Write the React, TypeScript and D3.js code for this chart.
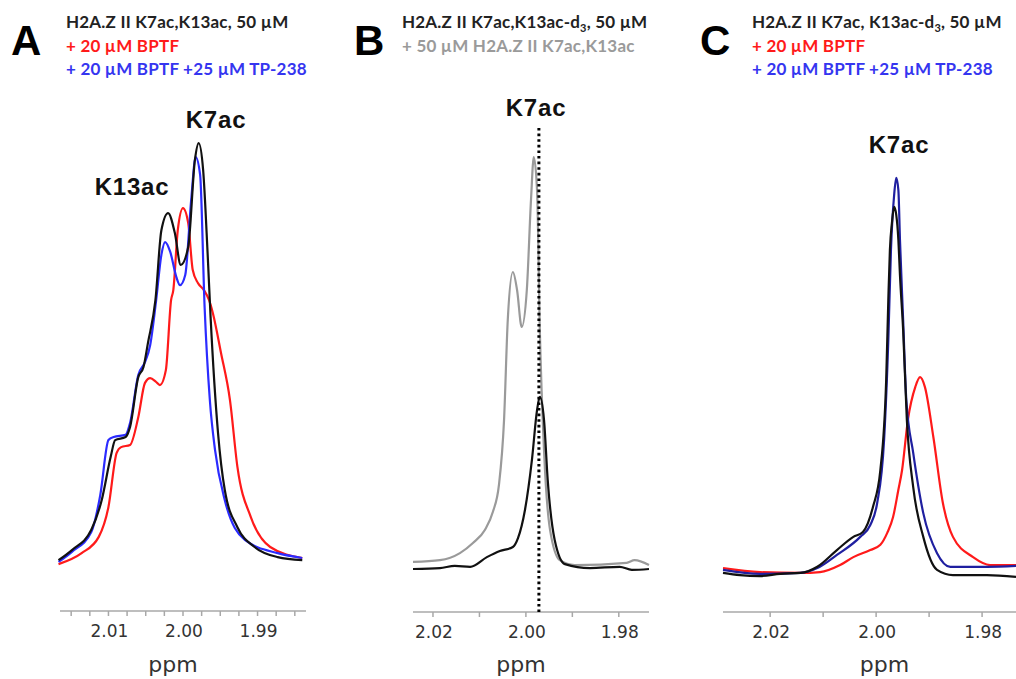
import * as d3 from "d3";
import { useEffect, useRef } from "react";

// spectra as [ppm, intensity] pairs, intensity in arbitrary units (0 = baseline area)
const aRed: [number, number][] = [
  [2.0167, 3.6], [2.0136, 6.1], [2.0113, 9.8], [2.01, 16.6], [2.0089, 28.9], [2.0083, 30.2],
  [2.0071, 30.7], [2.006, 37.0], [2.0051, 44.8], [2.0044, 45.9], [2.0036, 45.0], [2.0031, 44.3],
  [2.0023, 47.7], [2.0016, 63.6], [2.0013, 65.9], [2.0007, 79.5], [2.0, 84.5], [1.9993, 81.1],
  [1.9987, 70.5], [1.998, 67.5], [1.9972, 65.9], [1.9965, 63.6], [1.996, 60.7], [1.9949, 51.6],
  [1.9937, 40.9], [1.9927, 25.7], [1.9909, 14.3], [1.9883, 7.5], [1.984, 5.0],
];
const aBlue: [number, number][] = [
  [2.0167, 4.1], [2.0149, 6.4], [2.0123, 10.9], [2.0111, 19.3], [2.01, 31.8], [2.0093, 32.5],
  [2.0077, 33.0], [2.0071, 35.7], [2.006, 46.6], [2.0051, 49.5], [2.0044, 53.4], [2.0036, 63.6],
  [2.0029, 73.9], [2.0024, 76.8], [2.0017, 74.5], [2.0009, 68.9], [2.0004, 67.0], [1.9997, 69.3],
  [1.9989, 86.4], [1.9983, 96.1], [1.9977, 92.0], [1.9971, 62.0], [1.9964, 40.9], [1.9957, 29.5],
  [1.9944, 18.2], [1.9917, 9.1], [1.9873, 6.1], [1.984, 5.0],
];
const aBlack: [number, number][] = [
  [2.0167, 4.5], [2.0149, 6.8], [2.0123, 11.4], [2.0109, 18.2], [2.0097, 28.0], [2.0091, 31.8],
  [2.0077, 32.5], [2.0071, 34.8], [2.006, 46.1], [2.0053, 48.4], [2.0047, 53.9], [2.0037, 63.6],
  [2.0029, 79.5], [2.002, 83.4], [2.0011, 78.9], [2.0003, 71.6], [1.9993, 75.7], [1.9984, 95.5],
  [1.9979, 99.3], [1.9973, 93.2], [1.9967, 74.3], [1.9963, 59.8], [1.9953, 33.4], [1.9944, 20.5],
  [1.9927, 12.0], [1.9904, 7.5], [1.9873, 5.2], [1.984, 4.5],
];

const bGray: [number, number][] = [
  [2.0243, 4.1], [2.0185, 4.5], [2.0142, 6.1], [2.0114, 8.4], [2.0088, 11.4], [2.0071, 15.5],
  [2.0058, 21.6], [2.0047, 36.4], [2.0039, 59.1], [2.0028, 70.0], [2.0019, 65.9], [2.0009, 57.5],
  [1.9998, 65.9], [1.9989, 86.4], [1.9983, 96.1], [1.9976, 88.6], [1.997, 56.8], [1.9961, 29.5],
  [1.9948, 11.4], [1.9927, 4.5], [1.9895, 3.4], [1.9783, 3.9], [1.9766, 4.5], [1.9735, 3.4],
];
const bBlack: [number, number][] = [
  [2.0243, 2.5], [2.0185, 2.7], [2.0153, 3.2], [2.012, 3.0], [2.0084, 5.2], [2.0056, 6.6],
  [2.0028, 7.5], [2.0017, 9.5], [2.0002, 15.9], [1.9987, 27.3], [1.9976, 38.6], [1.997, 41.6],
  [1.9961, 36.4], [1.9953, 22.7], [1.9938, 9.1], [1.9916, 3.6], [1.9862, 2.7], [1.9798, 3.0],
  [1.9772, 2.3], [1.9735, 2.5],
];
const bMarker = 1.9972;

const cRed: [number, number][] = [
  [2.0289, 2.7], [2.0219, 1.8], [2.0143, 1.6], [2.0106, 1.8], [2.0068, 3.4], [2.0043, 5.2],
  [2.0011, 6.8], [1.9992, 8.0], [1.9979, 10.7], [1.9968, 14.3], [1.9958, 20.5], [1.9951, 25.0],
  [1.994, 36.4], [1.9926, 43.9], [1.9917, 46.1], [1.9908, 43.9], [1.9892, 32.5], [1.9874, 17.5],
  [1.9855, 9.8], [1.9817, 5.2], [1.9785, 3.4], [1.9736, 3.4],
];
const cBlue: [number, number][] = [
  [2.0289, 2.3], [2.0219, 1.4], [2.0143, 1.6], [2.0111, 2.7], [2.0074, 5.7], [2.003, 9.8],
  [2.0011, 12.5], [1.9998, 17.5], [1.9985, 31.8], [1.9977, 54.5], [1.9972, 75.0], [1.9966, 87.5],
  [1.9962, 91.4], [1.9958, 88.6], [1.9955, 77.3], [1.9949, 59.1], [1.9943, 40.9], [1.993, 28.9],
  [1.9911, 15.2], [1.9885, 6.1], [1.986, 3.0], [1.9791, 3.0], [1.9736, 3.2],
];
const cBlack: [number, number][] = [
  [2.0289, 1.6], [2.0257, 1.1], [2.0219, 0.9], [2.0181, 1.4], [2.0143, 1.6], [2.0111, 3.0],
  [2.0074, 6.8], [2.0043, 9.8], [2.0025, 10.9], [2.0006, 16.6], [1.9992, 25.0], [1.9981, 45.5],
  [1.9977, 63.6], [1.9974, 75.0], [1.997, 81.4], [1.9966, 84.8], [1.9962, 83.0], [1.9958, 77.3],
  [1.9955, 69.3], [1.9949, 56.8], [1.9942, 36.4], [1.993, 21.1], [1.9911, 9.8], [1.9885, 2.3],
  [1.9855, 1.1], [1.9791, 1.1], [1.9736, 0.7],
];

const aTicks = [2.015, 2.0125, 2.01, 2.0075, 2.005, 2.0025, 2.0, 1.9975, 1.995, 1.9925, 1.99, 1.9875, 1.985];
const aTickLabels = [2.01, 2.0, 1.99];
const bTicks = [2.02, 2.01, 2.0, 1.99, 1.98];
const bTickLabels = [2.02, 2.0, 1.98];
const cTicks = [2.02, 2.01, 2.0, 1.99, 1.98];
const cTickLabels = [2.02, 2.0, 1.98];

const RED = "#ff1a1a";
const BLUE = "#2b2bff";
const NAVY = "#1f1fa0";
const GRAY = "#9a9a9a";
const BLACK = "#111";

const App = () => {
  const svgRef = useRef<SVGSVGElement>(null);

  useEffect(() => {
    const svg = d3.select(svgRef.current);
    svg.selectAll("*").remove();

    const y = d3.scaleLinear().domain([0, 100]).range([580, 140]);

    const panels = [
      {
        range: [60, 306], domain: [2.0165, 1.9835], axisY: 611, ticks: aTicks, labels: aTickLabels,
        series: [{ d: aRed, c: RED }, { d: aBlue, c: BLUE }, { d: aBlack, c: BLACK }],
      },
      {
        range: [413, 649], domain: [2.0243, 1.9735], axisY: 612, ticks: bTicks, labels: bTickLabels,
        series: [{ d: bGray, c: GRAY }, { d: bBlack, c: BLACK }],
      },
      {
        range: [723, 1016], domain: [2.0289, 1.9736], axisY: 612, ticks: cTicks, labels: cTickLabels,
        series: [{ d: cRed, c: RED }, { d: cBlue, c: NAVY }, { d: cBlack, c: BLACK }],
      },
    ];

    const scales: d3.ScaleLinear<number, number>[] = [];

    panels.forEach((p) => {
      const x = d3.scaleLinear().domain(p.domain).range(p.range);
      scales.push(x);
      const g = svg.append("g");

      // axis
      g.append("line")
        .attr("x1", p.range[0]).attr("x2", p.range[1])
        .attr("y1", p.axisY).attr("y2", p.axisY)
        .attr("stroke", "#a8a8a8").attr("stroke-width", 1.5);
      g.selectAll(".tick").data(p.ticks).enter().append("line")
        .attr("x1", (t) => x(t)).attr("x2", (t) => x(t))
        .attr("y1", p.axisY).attr("y2", p.axisY + 5)
        .attr("stroke", "#a8a8a8").attr("stroke-width", 1.5);
      g.selectAll(".lab").data(p.labels).enter().append("text")
        .attr("x", (t) => x(t) + 1).attr("y", p.axisY + 26)
        .attr("text-anchor", "middle")
        .attr("font-family", "DejaVu Sans, Verdana, sans-serif")
        .attr("font-size", 17).attr("fill", "#333")
        .text((t) => d3.format(".2f")(t));
      g.append("text")
        .attr("x", (p.range[0] + Math.min(p.range[1], 1030)) / 2 + (p.range[0] > 700 ? 15 : -10))
        .attr("y", 672)
        .attr("text-anchor", "middle")
        .attr("font-family", "DejaVu Sans, Verdana, sans-serif")
        .attr("font-size", 22).attr("fill", "#333")
        .text("ppm");

      const line = d3.line<[number, number]>()
        .x((d) => x(d[0])).y((d) => y(d[1]))
        .curve(d3.curveMonotoneX);
      p.series.forEach((s) => {
        g.append("path")
          .attr("d", line([...s.d].sort((a, b) => a[0] - b[0])))
          .attr("fill", "none").attr("stroke", s.c)
          .attr("stroke-width", 2.2).attr("stroke-linejoin", "round");
      });
    });

    // dotted marker in B
    const xb = scales[1];
    svg.append("line")
      .attr("x1", xb(bMarker)).attr("x2", xb(bMarker))
      .attr("y1", 128).attr("y2", 612)
      .attr("stroke", "#000").attr("stroke-width", 3)
      .attr("stroke-dasharray", "2.6 3");

    // panel letters
    const letters = [["A", 11], ["B", 354], ["C", 700]] as const;
    letters.forEach(([t, lx]) => {
      svg.append("text").attr("x", lx).attr("y", 55)
        .attr("font-family", "Liberation Sans, Arial, sans-serif")
        .attr("font-weight", "bold").attr("font-size", 42).attr("fill", "#000")
        .text(t);
    });

    // peak labels
    const peak = (t: string, px: number, py: number) =>
      svg.append("text").attr("x", px).attr("y", py).attr("text-anchor", "middle")
        .attr("font-family", "Liberation Sans, Arial, sans-serif")
        .attr("font-weight", "bold").attr("font-size", 24).attr("letter-spacing", 0.8)
        .attr("fill", "#111").text(t);
    peak("K7ac", 216, 128);
    peak("K13ac", 132, 195);
    peak("K7ac", 536, 116);
    peak("K7ac", 899, 153);

    // headers
    const header = (hx: number, hy: number, color: string) =>
      svg.append("text").attr("x", hx).attr("y", hy)
        .attr("font-family", "Lato, Open Sans, sans-serif")
        .attr("font-weight", "bold").attr("font-size", 17).attr("letter-spacing", 0.2)
        .attr("fill", color);

    header(66, 28, "#222").text("H2A.Z II K7ac,K13ac, 50 µM");
    header(66, 52, RED).text("+ 20 µM BPTF");
    header(66, 75, "#3535f0").text("+ 20 µM BPTF +25 µM TP-238");

    const hb = header(402, 28, "#222");
    hb.append("tspan").text("H2A.Z II K7ac,K13ac-d");
    hb.append("tspan").attr("font-size", 11).attr("dy", 4).text("3");
    hb.append("tspan").attr("dy", -4).text(", 50 µM");
    header(402, 52, GRAY).text("+ 50 µM H2A.Z II K7ac,K13ac");

    const hc = header(752, 28, "#222");
    hc.append("tspan").text("H2A.Z II K7ac, K13ac-d");
    hc.append("tspan").attr("font-size", 11).attr("dy", 4).text("3");
    hc.append("tspan").attr("dy", -4).text(", 50 µM");
    header(752, 52, RED).text("+ 20 µM BPTF");
    header(752, 75, "#3535f0").text("+ 20 µM BPTF +25 µM TP-238");
  }, []);

  return (
    <svg
      ref={svgRef}
      width={1016}
      height={679}
      style={{ position: "absolute", left: 0, top: 0, background: "#fff" }}
    />
  );
};

export default App;
